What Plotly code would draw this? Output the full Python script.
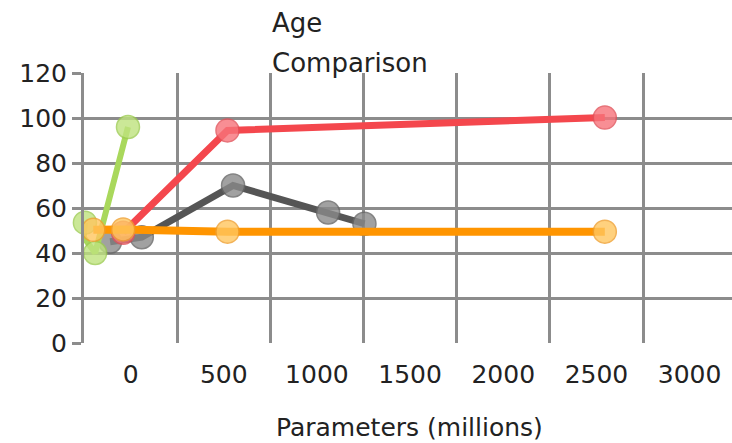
import plotly.graph_objects as go

# Series values: parameters (millions) on x, age on y
gray_x = [-110, 60, 550, 1060, 1255]
gray_y = [45, 47, 70, 58, 53]

red_x = [-40, 520, 2545]
red_y = [49, 94.5, 100.2]

green_x = [-245, -252, -190, -14]
green_y = [53.5, 47, 40, 96]

orange_x = [-200, -40, 520, 2545]
orange_y = [50.3, 50.5, 49.5, 49.5]

x_ticks = [0, 500, 1000, 1500, 2000, 2500, 3000]
y_ticks = [0, 20, 40, 60, 80, 100, 120]

FONT = "DejaVu Sans"
TEXT = "#222222"
GRID = "#8c8c8c"

series = [
    (gray_x, gray_y, "#555555", "#8a8a8a", "#666666", 7),
    (red_x, red_y, "#f4474d", "#f7737a", "#e2525a", 7),
    (green_x, green_y, "#a9d85c", "#bfe37e", "#9dcc52", 6),
    (orange_x, orange_y, "#ff9500", "#ffc65e", "#f0a030", 8),
]

fig = go.Figure()
for xs, ys, line_c, fill_c, edge_c, lw in series:
    fig.add_trace(go.Scatter(
        x=xs, y=ys, mode="lines+markers",
        line=dict(color=line_c, width=lw),
        marker=dict(size=23, color=fill_c, opacity=0.8,
                    line=dict(color=edge_c, width=1.5)),
        cliponaxis=False, showlegend=False, hoverinfo="skip",
    ))

fig.update_layout(
    width=732, height=443,
    margin=dict(l=84, r=0, t=73, b=100),
    paper_bgcolor="white", plot_bgcolor="white",
    font=dict(family=FONT, color=TEXT, size=25),
    xaxis=dict(
        range=[-250, 3227.5],
        tickmode="array", tickvals=x_ticks,
        ticktext=[str(v) for v in x_ticks],
        showgrid=False, zeroline=False, showline=False, ticks="",
        ticklabelstandoff=14,
        tickfont=dict(family=FONT, size=25, color=TEXT),
        minor=dict(tick0=-250, dtick=500, showgrid=True,
                   gridcolor=GRID, gridwidth=3, ticks=""),
    ),
    yaxis=dict(
        range=[0, 120],
        tickmode="array", tickvals=y_ticks,
        ticktext=[str(v) for v in y_ticks],
        showgrid=True, gridcolor=GRID, gridwidth=3,
        zeroline=True, zerolinecolor="rgba(0,0,0,0)",
        showline=True, linecolor=GRID, linewidth=3,
        ticks="outside", ticklen=9, tickwidth=3, tickcolor=GRID,
        tickfont=dict(family=FONT, size=25, color=TEXT),
    ),
    annotations=[
        dict(text="Age", xref="paper", yref="paper", x=0.287, y=1.185,
             xanchor="left", yanchor="middle", showarrow=False,
             font=dict(family=FONT, size=26, color=TEXT)),
        dict(text="Comparison", xref="paper", yref="paper", x=0.287, y=1.037,
             xanchor="left", yanchor="middle", showarrow=False,
             font=dict(family=FONT, size=26, color=TEXT)),
        dict(text="Parameters (millions)", xref="paper", yref="paper",
             x=0.503, y=-0.312, xanchor="center", yanchor="middle",
             showarrow=False, font=dict(family=FONT, size=25, color=TEXT)),
    ],
)

fig.write_html("out.html")
